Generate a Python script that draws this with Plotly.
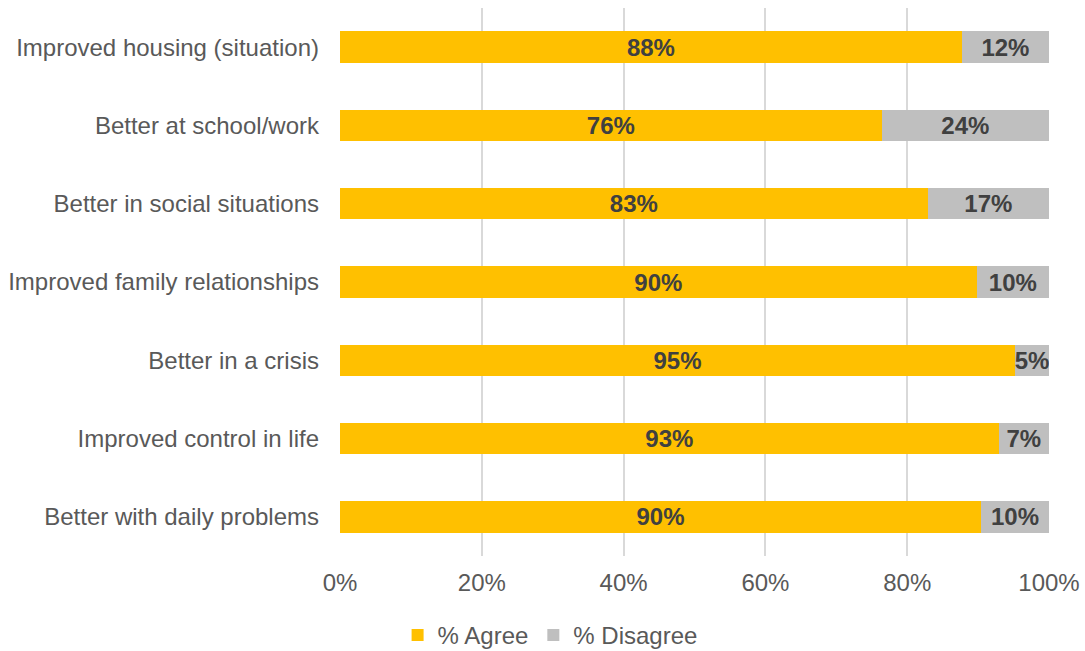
import plotly.graph_objects as go

categories = [
    "Improved housing (situation)",
    "Better at school/work",
    "Better in social situations",
    "Improved family relationships",
    "Better in a crisis",
    "Improved control in life",
    "Better with daily problems",
]
agree = [87.7, 76.4, 82.9, 89.8, 95.2, 92.9, 90.4]
disagree = [12.3, 23.6, 17.1, 10.2, 4.8, 7.1, 9.6]
agree_labels = ["88%", "76%", "83%", "90%", "95%", "93%", "90%"]
disagree_labels = ["12%", "24%", "17%", "10%", "5%", "7%", "10%"]
x_ticks = [0, 20, 40, 60, 80, 100]
x_tick_labels = ["0%", "20%", "40%", "60%", "80%", "100%"]

FONT = "Liberation Sans, Arial, sans-serif"

fig = go.Figure()
fig.add_trace(go.Bar(
    y=categories, x=agree, orientation="h", name="% Agree",
    marker=dict(color="#FFC000", line=dict(width=0)),
    text=agree_labels, textposition="inside", insidetextanchor="middle",
    textangle=0, constraintext="none",
    textfont=dict(family=FONT, size=24, color="#404040", weight="bold"),
))
fig.add_trace(go.Bar(
    y=categories, x=disagree, orientation="h", name="% Disagree",
    marker=dict(color="#BFBFBF", line=dict(width=0)),
    text=disagree_labels, textposition="inside", insidetextanchor="middle",
    textangle=0, constraintext="none",
    textfont=dict(family=FONT, size=24, color="#404040", weight="bold"),
))

fig.update_layout(
    barmode="stack",
    bargap=0.6,
    width=1085, height=651,
    margin=dict(l=340, r=36, t=8, b=95, autoexpand=False),
    paper_bgcolor="white", plot_bgcolor="white",
    font=dict(family=FONT, size=24, color="#595959"),
    showlegend=True,
    legend=dict(
        orientation="h", traceorder="normal",
        xref="container", yref="container",
        x=0.507, xanchor="center", y=0.024, yanchor="middle",
        font=dict(size=24, color="#595959"),
        itemwidth=30, tracegroupgap=0,
    ),
    uniformtext=dict(mode=False),
)
fig.update_xaxes(
    range=[0, 100], tickvals=x_ticks, ticktext=x_tick_labels,
    showgrid=True, gridcolor="#D9D9D9", gridwidth=2,
    zeroline=False, showline=False, ticks="",
    ticklabelstandoff=10,
    tickfont=dict(size=24, color="#595959"),
    fixedrange=True,
)
fig.update_yaxes(
    autorange="reversed", showgrid=False, showline=False, ticks="",
    ticklabelstandoff=20,
    tickfont=dict(size=24, color="#595959"),
    fixedrange=True,
)

fig.write_html("out.html")
